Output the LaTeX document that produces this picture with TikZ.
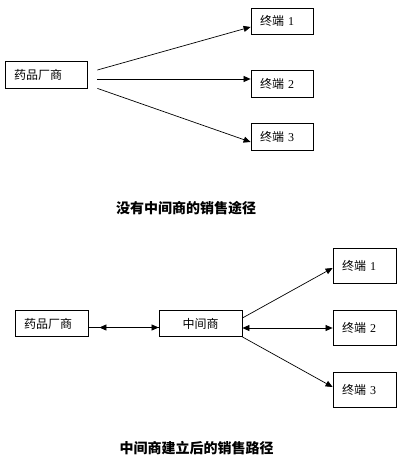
\documentclass[tikz,border=0pt]{standalone}
\usepackage{fontspec}
\setmainfont{Liberation Serif}
\newfontfamily\cjk{Noto Sans CJK SC}
\usetikzlibrary{arrows.meta}
\tikzstyle{box}=[draw, line width=.8pt, inner xsep=9pt, inner ysep=0pt, align=left, font=\fontsize{12}{14}\selectfont]
\tikzstyle{link}=[line width=.7pt]
\tikzstyle{title}=[font=\cjk\bfseries\fontsize{14}{16}\selectfont]

\begin{document}
\begin{tikzpicture}[x=1pt, y=-1pt, >={Triangle[length=7pt, width=6pt]}]
    \useasboundingbox (0,0) rectangle (403,463);

    % without a middleman
    \node[box, text width=64pt, minimum height=27pt] (maker1) at (46,74.5) {\cjk 药品厂商};
    \node[box, text width=44pt, minimum height=26pt] (end11) at (282,21) {{\cjk 终端} 1};
    \node[box, text width=44pt, minimum height=27pt] (end12) at (282,83.5) {{\cjk 终端} 2};
    \node[box, text width=44pt, minimum height=27pt] (end13) at (282,136.5) {{\cjk 终端} 3};
    \node[title] (title1) at (186,208.5) {没有中间商的销售途径};

    \draw[link, ->] ([xshift=10pt, yshift=4.5pt]maker1.east) -- ([yshift=-6pt]end11.west);
    \draw[link, ->] ([xshift=10pt, yshift=-4.5pt]maker1.east) -- ([yshift=4.5pt]end12.west);
    \draw[link, ->] ([xshift=10pt]maker1.south east) -- ([yshift=-5.5pt]end13.west);

    % with a middleman
    \node[box, text width=55pt, minimum height=26pt] (maker2) at (51.5,323.5) {\cjk 药品厂商};
    \node[box, align=center, text width=65pt, minimum height=26pt] (mid) at (200.5,323.5) {\cjk 中间商};
    \node[box, text width=45pt, minimum height=35pt] (end21) at (364.5,266) {{\cjk 终端} 1\\[2pt]};
    \node[box, text width=45pt, minimum height=35pt] (end22) at (364.5,328) {{\cjk 终端} 2\\[2pt]};
    \node[box, text width=45pt, minimum height=35pt] (end23) at (364.5,389.5) {{\cjk 终端} 3\\[2pt]};
    \node[title] (title2) at (196.5,448) {中间商建立后的销售路径};

    \draw[link, ->] ([yshift=-4pt]maker2.east) -- ([yshift=-4pt]mid.west);
    \draw[link, ->] ([yshift=-4pt]mid.west) -- ([xshift=11pt, yshift=-4pt]maker2.east);
    \draw[link, ->] ([yshift=5.5pt]mid.east) -- ([yshift=-2pt]end21.west);
    \draw[link, <->] ([yshift=-4.5pt]mid.east) -- (end22.west);
    \draw[link, ->] (mid.south east) -- ([yshift=2.5pt]end23.west);
\end{tikzpicture}
\end{document}
